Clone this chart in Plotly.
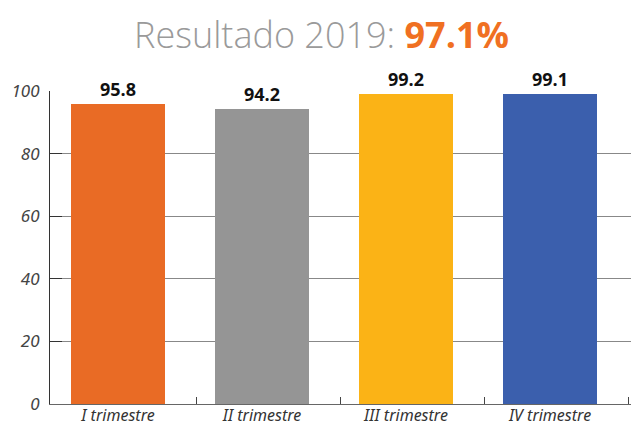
import plotly.graph_objects as go

categories = ["I trimestre", "II trimestre", "III trimestre", "IV trimestre"]
values = [95.8, 94.2, 99.2, 99.1]
colors = ["#E96B25", "#959595", "#FBB316", "#3B5FAD"]
y_ticks = [0, 20, 40, 60, 80, 100]
title_main = "Resultado 2019: "
title_value = "97.1%"

xpos = list(range(len(categories)))
bar_width = 0.653
x_range = [-0.472, 3.618]
tick_shift = 0.542  # tick marks between categories (Excel style, offset)

fig = go.Figure()
fig.add_trace(go.Bar(
    x=xpos, y=values, width=bar_width,
    marker=dict(color=colors, line=dict(width=0)),
    text=[f"{v:.1f}" for v in values],
    textposition="outside",
    textfont=dict(family="Open Sans", size=18, color="#111111", weight="bold"),
    cliponaxis=False,
    showlegend=False,
    hoverinfo="skip",
))
fig.add_trace(go.Scatter(x=[x_range[0]], y=[0], xaxis="x2", mode="markers",
                         marker=dict(opacity=0), showlegend=False, hoverinfo="skip"))

# page body has an 8px margin; figure is sized to fit the 639x426 window
fig.update_layout(
    width=631, height=418,
    margin=dict(l=42, r=0, t=83, b=22, autoexpand=False),
    paper_bgcolor="white", plot_bgcolor="white",
    bargap=0,
    title=dict(
        text=f"<span style='color:#9a9a9a;font-weight:300'>{title_main}</span>"
             f"<span style='color:#F07022;font-weight:bold'>{title_value}</span>",
        x=(321.5 - 8) / 631, xref="container", xanchor="center",
        y=0.935, yref="container", yanchor="middle",
        font=dict(family="Open Sans", size=36),
    ),
    xaxis=dict(
        range=x_range, tickmode="array", tickvals=xpos,
        ticktext=categories,
        showgrid=False, zeroline=False, ticks="",
        showline=True, linecolor="#666666", linewidth=1,
        tickfont=dict(family="Noto Sans", size=16, color="#333333", style="italic"),
        automargin=False, ticklabelstandoff=-3,
    ),
    xaxis2=dict(
        overlaying="x", anchor="y", side="bottom", range=x_range,
        tickmode="array", tickvals=[i + tick_shift for i in xpos],
        ticks="inside", ticklen=7, tickcolor="#444444", tickwidth=1,
        showticklabels=False, showgrid=False, zeroline=False, showline=False,
        automargin=False,
    ),
    yaxis=dict(
        range=[0, 100], tickmode="array", tickvals=y_ticks,
        showgrid=True, gridcolor="#888888", gridwidth=1,
        zeroline=False,
        showline=True, linecolor="#333333", linewidth=1,
        ticks="inside", ticklen=12, tickcolor="#333333",
        tickfont=dict(family="Noto Sans", size=17, color="#444444", style="italic"),
        automargin=False, ticklabelstandoff=6,
    ),
)

fig.write_html("out.html")
